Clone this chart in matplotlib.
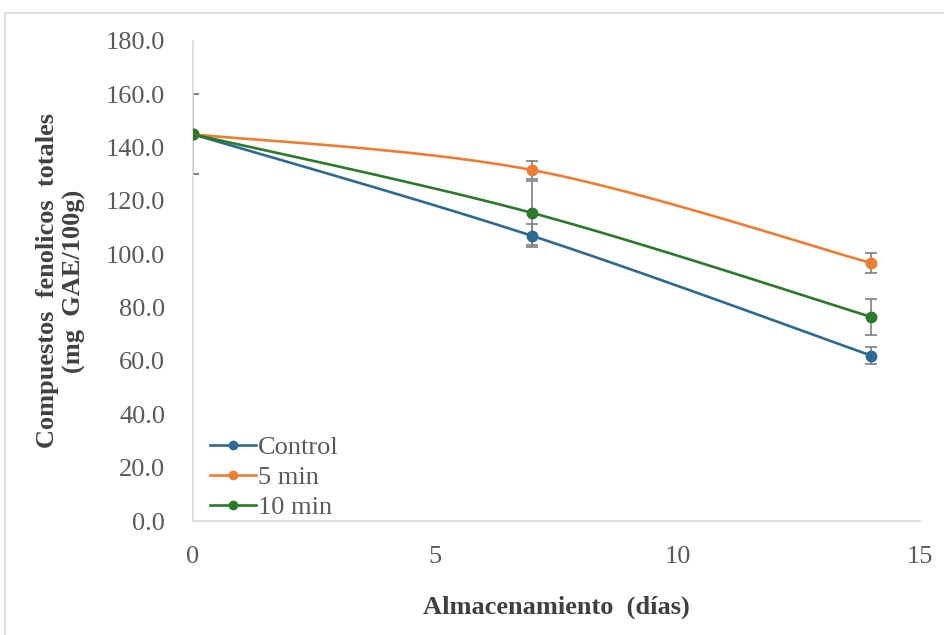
"""
Compuestos fenolicos totales durante el almacenamiento.

Line chart with error bars for three treatments (Control, 5 min, 10 min),
drawn with Excel-like smoothed lines.
"""

import matplotlib.pyplot as plt
import numpy as np
from matplotlib.lines import Line2D

days = [0, 7, 14]
series_names = ["Control", "5 min", "10 min"]
control = [145.0, 106.9, 62.0]
min5 = [145.0, 131.6, 96.7]
min10 = [145.0, 115.5, 76.5]
control_err = [15.0, 4.3, 3.3]
min5_err = [15.0, 3.4, 3.8]
min10_err = [15.0, 12.0, 6.7]

y_ticks = [0, 20, 40, 60, 80, 100, 120, 140, 160, 180]
x_ticks = [0, 5, 10, 15]

colors = ["#2C6A93", "#EE7D34", "#2B7A2B"]
GRAY = "#595959"


def smooth(x, y, n=60):
    """Catmull-Rom curve through the points, like Excel's smoothed line."""
    x = np.asarray(x, float)
    y = np.asarray(y, float)
    px = np.concatenate([[x[0]], x, [x[-1]]])
    py = np.concatenate([[y[0]], y, [y[-1]]])
    xs, ys = [], []
    t = np.linspace(0, 1, n)
    for i in range(1, len(px) - 2):
        for p, out in ((px, xs), (py, ys)):
            p0, p1, p2, p3 = p[i - 1], p[i], p[i + 1], p[i + 2]
            out.extend(0.5 * ((2 * p1) + (-p0 + p2) * t
                              + (2 * p0 - 5 * p1 + 4 * p2 - p3) * t ** 2
                              + (-p0 + 3 * p1 - 3 * p2 + p3) * t ** 3))
    return xs, ys


plt.rcParams["font.family"] = ["Liberation Serif", "DejaVu Serif"]

fig = plt.figure(figsize=(9.44, 6.35), dpi=100)
ax = fig.add_axes([0.2045, 0.1795, 0.770, 0.756])

# light frame around the chart area
fig.add_artist(Line2D([0.0053, 0.0053], [0, 0.9795], color="#D9D9D9",
                      lw=1.2, transform=fig.transFigure))
fig.add_artist(Line2D([0.0053, 1], [0.9795, 0.9795], color="#D9D9D9",
                      lw=1.2, transform=fig.transFigure))

all_vals = [control, min5, min10]
all_errs = [control_err, min5_err, min10_err]
handles = []
for name, vals, errs, c in zip(series_names, all_vals, all_errs, colors):
    ax.errorbar(days, vals, yerr=errs, fmt="none", ecolor="#7F7F7F",
                elinewidth=1.2, capsize=4, capthick=1.2, zorder=2)
    sx, sy = smooth(days, vals)
    ax.plot(sx, sy, color=c, lw=1.9, zorder=3)
    ax.plot(days, vals, "o", color=c, markersize=7.5, zorder=4)
    handles.append(Line2D([], [], color=c, lw=1.9, marker="o",
                          markersize=6, label=name))

ax.set_xlim(0, 15)
ax.set_ylim(0, 180)
ax.set_xticks(x_ticks)
ax.set_yticks(y_ticks)
ax.set_yticklabels([f"{v:.1f}" for v in y_ticks])
ax.tick_params(length=0, labelsize=19, labelcolor=GRAY)
ax.tick_params(axis="x", pad=18)
ax.tick_params(axis="y", pad=20)

for side in ["top", "right"]:
    ax.spines[side].set_visible(False)
for side in ["left", "bottom"]:
    ax.spines[side].set_color("#D9D9D9")
    ax.spines[side].set_linewidth(1.2)

ax.set_xlabel("Almacenamiento  (días)", fontsize=19, fontweight="bold",
              color="#404040", labelpad=20)
ax.set_ylabel("Compuestos  fenolicos  totales\n(mg  GAE/100g)", fontsize=19,
              fontweight="bold", color="#404040", labelpad=14,
              linespacing=1.25)

leg = ax.legend(handles=handles, loc="lower left", fontsize=19,
                frameon=False, handlelength=1.75, handletextpad=0.08,
                labelspacing=0.25, borderaxespad=0.3,
                bbox_to_anchor=(-0.002, -0.035))
for t in leg.get_texts():
    t.set_color(GRAY)

fig.savefig("out.png", dpi=100)
